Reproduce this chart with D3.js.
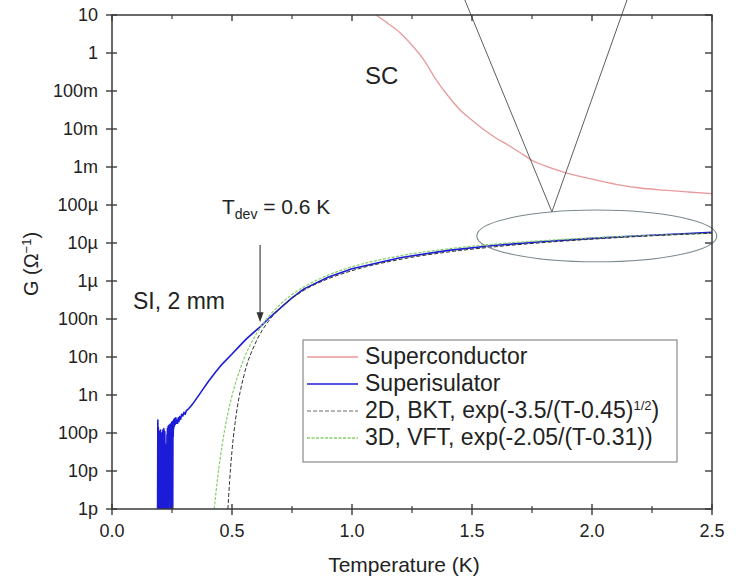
<!DOCTYPE html>
<html>
<head>
<meta charset="utf-8">
<script src="https://cdn.jsdelivr.net/npm/d3@7/dist/d3.min.js"></script>
<style>
  html, body { margin: 0; padding: 0; background: #ffffff; }
  svg { display: block; }
  text { font-family: "Liberation Sans", Arial, Helvetica, sans-serif; fill: #222; }
</style>
</head>
<body>
<svg id="chart" width="736" height="583"></svg>
<script>
// ---------------- DATA ----------------
const xTicks = [0.0, 0.5, 1.0, 1.5, 2.0, 2.5];
const yTickValues = [10, 1, 1e-1, 1e-2, 1e-3, 1e-4, 1e-5, 1e-6, 1e-7, 1e-8, 1e-9, 1e-10, 1e-11, 1e-12];
const yTickLabels = ["10", "1", "100m", "10m", "1m", "100\u00b5", "10\u00b5", "1\u00b5", "100n", "10n", "1n", "100p", "10p", "1p"];

// Superconductor (T in K, G in 1/Ohm)
const T_sc = [1.10, 1.15, 1.20, 1.25, 1.30, 1.35, 1.40, 1.45, 1.50, 1.55, 1.60, 1.65, 1.70, 1.75, 1.80, 1.90, 2.00, 2.10, 2.20, 2.30, 2.40, 2.50];
const G_sc = [10, 6, 3.4, 1.6, 0.65, 0.2, 0.075, 0.032, 0.017, 0.0095, 0.0058, 0.0038, 0.0024, 0.0015, 0.0011, 6.8e-4, 4.8e-4, 3.5e-4, 2.8e-4, 2.45e-4, 2.2e-4, 2.0e-4];

// Superisulator
const T_si = [
  0.190, 0.191, 0.192, 0.193, 0.194, 0.195, 0.196, 0.197, 0.198, 0.199,
  0.200, 0.201, 0.202, 0.203, 0.204, 0.205, 0.206, 0.207, 0.208, 0.209,
  0.210, 0.211, 0.212, 0.213, 0.214, 0.215, 0.216, 0.217, 0.218, 0.219,
  0.220, 0.221, 0.222, 0.223, 0.224, 0.225, 0.226, 0.227, 0.228, 0.229,
  0.230, 0.231, 0.232, 0.233, 0.234, 0.235, 0.236, 0.237, 0.238, 0.239,
  0.240, 0.241, 0.242, 0.243, 0.244, 0.245, 0.246, 0.247, 0.248, 0.249,
  0.250, 0.251, 0.252, 0.253, 0.254, 0.255, 0.256, 0.257, 0.258, 0.260,
  0.262, 0.264, 0.266, 0.268, 0.270, 0.273, 0.276, 0.279, 0.282, 0.286,
  0.290, 0.295, 0.300, 0.305, 0.310, 0.320, 0.330, 0.34, 0.36, 0.38,
  0.40, 0.43, 0.46, 0.50, 0.53, 0.56, 0.60, 0.62, 0.65, 0.70,
  0.75, 0.80, 0.90, 1.0, 1.2, 1.4, 1.6, 1.8, 2.0, 2.2,
  2.4, 2.5];
const G_si = [
  1e-12, 2.2e-10, 2e-12, 1.4e-10, 8e-12, 1e-12, 9e-11, 2e-11, 1.1e-10, 1e-12,
  6e-11, 5e-12, 1.2e-10, 1.5e-11, 1e-12, 8e-11, 3e-12, 1e-10, 2.5e-11, 1e-12,
  7e-11, 1e-12, 1.2e-10, 4e-12, 9e-11, 1.2e-11, 1.3e-10, 1e-12, 6e-11, 2e-12,
  1.1e-10, 3e-11, 8e-12, 1e-12, 5e-11, 2e-12, 1e-12, 4e-11, 1e-12, 9e-11,
  6e-12, 1.3e-10, 2e-11, 1e-12, 1.5e-10, 7e-12, 1.2e-10, 1e-12, 1.6e-10, 3e-11,
  1.4e-10, 5e-12, 1.7e-10, 4e-11, 1e-12, 1.6e-10, 1e-11, 1.8e-10, 1e-12, 1.9e-10,
  6e-11, 2e-10, 2e-12, 1e-12, 1.8e-10, 8e-11, 2.1e-10, 1.3e-10, 2.3e-10, 1.5e-10,
  2.4e-10, 1.7e-10, 2.5e-10, 1.8e-10, 2.2e-10, 1.8e-10, 2.5e-10, 2.0e-10, 2.7e-10, 2.3e-10,
  3.1e-10, 2.8e-10, 3.5e-10, 3.1e-10, 3.9e-10, 4.4e-10, 5.2e-10, 6.3e-10, 9.5e-10, 1.45e-9,
  2.2e-9, 3.9e-9, 6.6e-9, 1.2e-8, 1.9e-8, 3.0e-8, 5.0e-8, 6.4e-8, 1.0e-7, 1.9e-7,
  3.6e-7, 6.2e-7, 1.25e-6, 2.1e-6, 4.1e-6, 6.4e-6, 8.7e-6, 1.1e-5, 1.32e-5, 1.55e-5,
  1.78e-5, 1.9e-5];

// 2D BKT fit (dark dashed curve)
const T_bkt = [0.483, 0.49, 0.50, 0.52, 0.55, 0.60, 0.65, 0.70, 0.75, 0.80, 0.90, 1.0, 1.2, 1.4, 1.6, 1.8, 2.0, 2.2, 2.5];
const G_bkt = [1e-12, 5.3e-12, 3.4e-11, 3.8e-10, 3.3e-9, 2.5e-8, 8.4e-8, 1.9e-7, 3.5e-7, 5.7e-7, 1.14e-6, 1.87e-6, 3.7e-6, 5.8e-6, 8.0e-6, 1.03e-5, 1.26e-5, 1.49e-5, 1.82e-5];

// 3D VFT fit (light green curve)
const T_vft = [0.426, 0.44, 0.46, 0.48, 0.50, 0.55, 0.60, 0.65, 0.70, 0.75, 0.80, 0.90, 1.0, 1.2, 1.4, 1.6, 1.8, 2.0, 2.2, 2.5];
const G_vft = [1e-12, 6.5e-12, 5.3e-11, 2.7e-10, 9.5e-10, 9.0e-9, 3.9e-8, 1.1e-7, 2.4e-7, 4.4e-7, 7.0e-7, 1.43e-6, 2.36e-6, 4.6e-6, 7.0e-6, 9.4e-6, 1.16e-5, 1.37e-5, 1.55e-5, 1.8e-5];

// Annotation anchors (data coordinates)
const vShapeT = [1.47, 1.833, 2.146];
const vShapeG = [25, 6.6e-5, 25];
const ellipseT = [1.52, 2.52];      // left / right extent
const ellipseG = [7.4e-5, 3.2e-6];  // top / bottom extent
const arrowT = 0.617;
const arrowG = [8.9e-6, 8.2e-8];

const legendNames = ["Superconductor", "Superisulator", "2D, BKT, exp(-3.5/(T-0.45)", "3D, VFT, exp(-2.05/(T-0.31))"];

// ---------------- CHART ----------------
const svg = d3.select("#chart");
const pL = 112, pR = 712, pT = 15, pB = 509;

const x = d3.scaleLinear().domain([0, 2.5]).range([pL, pR]);
const y = d3.scaleLog().domain([1e-12, 10]).range([pB, pT]);

svg.append("defs").append("clipPath").attr("id", "plotclip")
  .append("rect").attr("x", pL).attr("y", pT).attr("width", pR - pL).attr("height", pB - pT);

const colors = { sc: "#e8999a", si: "#1c1cd8", bkt: "#333333", vft: "#86cf6a" };

const line = d3.line().x(d => x(d[0])).y(d => y(d[1])).curve(d3.curveMonotoneX);
const lineLin = d3.line().x(d => x(d[0])).y(d => y(d[1]));
const zip = (a, b) => a.map((v, i) => [v, b[i]]);

const plot = svg.append("g").attr("clip-path", "url(#plotclip)");

plot.append("path").attr("d", line(zip(T_sc, G_sc)))
  .attr("fill", "none").attr("stroke", colors.sc).attr("stroke-width", 1.3);
plot.append("path").attr("d", lineLin(zip(T_si, G_si)))
  .attr("fill", "none").attr("stroke", colors.si).attr("stroke-width", 1.6).attr("stroke-linejoin", "round");
plot.append("path").attr("d", line(zip(T_vft, G_vft)))
  .attr("fill", "none").attr("stroke", colors.vft).attr("stroke-width", 1.2).attr("stroke-dasharray", "3,1.5");
plot.append("path").attr("d", line(zip(T_bkt, G_bkt)))
  .attr("fill", "none").attr("stroke", colors.bkt).attr("stroke-width", 1).attr("stroke-dasharray", "4,2");

// Ellipse annotation
const ecx = (x(ellipseT[0]) + x(ellipseT[1])) / 2;
const ecy = (y(ellipseG[0]) + y(ellipseG[1])) / 2;
svg.append("ellipse")
  .attr("cx", ecx).attr("cy", ecy)
  .attr("rx", (x(ellipseT[1]) - x(ellipseT[0])) / 2)
  .attr("ry", (y(ellipseG[1]) - y(ellipseG[0])) / 2)
  .attr("fill", "none").attr("stroke", "#7a8a90").attr("stroke-width", 1.1);

// V-shape lines
svg.append("path").attr("d", lineLin(zip(vShapeT, vShapeG)))
  .attr("fill", "none").attr("stroke", "#5e5e5e").attr("stroke-width", 1);

// Axes frame
const ax = svg.append("g").attr("stroke", "#3a3a3a").attr("fill", "none");
ax.append("rect").attr("x", pL).attr("y", pT).attr("width", pR - pL).attr("height", pB - pT)
  .attr("stroke-width", 1.5);

// x ticks (bottom & top)
const xMinor = [0.25, 0.75, 1.25, 1.75, 2.25];
xTicks.forEach(t => {
  ax.append("line").attr("x1", x(t)).attr("x2", x(t)).attr("y1", pB - 5).attr("y2", pB + 6).attr("stroke-width", 1.4);
  ax.append("line").attr("x1", x(t)).attr("x2", x(t)).attr("y1", pT).attr("y2", pT + 6).attr("stroke-width", 1.4);
});
xMinor.forEach(t => {
  ax.append("line").attr("x1", x(t)).attr("x2", x(t)).attr("y1", pB - 3).attr("y2", pB + 4).attr("stroke-width", 1.2);
  ax.append("line").attr("x1", x(t)).attr("x2", x(t)).attr("y1", pT).attr("y2", pT + 4).attr("stroke-width", 1.2);
});

// y ticks (left & right)
yTickValues.forEach(v => {
  ax.append("line").attr("x1", pL - 6).attr("x2", pL + 5).attr("y1", y(v)).attr("y2", y(v)).attr("stroke-width", 1.4);
  ax.append("line").attr("x1", pR - 7).attr("x2", pR).attr("y1", y(v)).attr("y2", y(v)).attr("stroke-width", 1.4);
});
y.ticks().filter(v => {
  const m = v / Math.pow(10, Math.floor(Math.log10(v) + 1e-9));
  return Math.abs(m - 1) > 1e-6;
}).forEach(v => {
  ax.append("line").attr("x1", pL).attr("x2", pL + 3).attr("y1", y(v)).attr("y2", y(v)).attr("stroke-width", 1);
  ax.append("line").attr("x1", pR - 3).attr("x2", pR).attr("y1", y(v)).attr("y2", y(v)).attr("stroke-width", 1);
});

// Tick labels
svg.append("g").selectAll("text").data(xTicks).join("text")
  .attr("x", d => x(d)).attr("y", 537).attr("text-anchor", "middle")
  .attr("font-size", 18).text(d => d3.format(".1f")(d));
svg.append("g").selectAll("text").data(yTickValues).join("text")
  .attr("x", 98).attr("y", d => y(d) + 6).attr("text-anchor", "end")
  .attr("font-size", 18).text((d, i) => yTickLabels[i]);

// Axis titles
svg.append("text").attr("x", 404).attr("y", 572).attr("text-anchor", "middle")
  .attr("font-size", 21).text("Temperature (K)");
const yt = svg.append("text").attr("transform", "translate(38,264) rotate(-90)")
  .attr("text-anchor", "middle").attr("font-size", 20);
yt.append("tspan").text("G (\u03a9");
yt.append("tspan").attr("dy", -7).attr("font-size", 13).text("\u22121");
yt.append("tspan").attr("dy", 7).text(")");

// Arrow
svg.append("line").attr("x1", x(arrowT)).attr("x2", x(arrowT))
  .attr("y1", y(arrowG[0])).attr("y2", y(arrowG[1]) - 6)
  .attr("stroke", "#333").attr("stroke-width", 1.1);
const ax0 = x(arrowT), ay0 = y(arrowG[1]);
svg.append("path").attr("d", `M${ax0},${ay0} L${ax0 - 3.5},${ay0 - 10} L${ax0 + 3.5},${ay0 - 10} Z`).attr("fill", "#333");

// Text annotations
const td = svg.append("text").attr("x", 222).attr("y", 214).attr("font-size", 21);
td.append("tspan").text("T");
td.append("tspan").attr("dy", 5).attr("font-size", 14).text("dev");
td.append("tspan").attr("dy", -5).text(" = 0.6 K");
svg.append("text").attr("x", 133).attr("y", 309).attr("font-size", 23).text("SI, 2 mm");
svg.append("text").attr("x", 365).attr("y", 84).attr("font-size", 24).text("SC");

// Legend
const lg = svg.append("g");
lg.append("rect").attr("x", 303).attr("y", 340).attr("width", 374).attr("height", 122)
  .attr("fill", "#fff").attr("stroke", "#8a8a8a").attr("stroke-width", 1.2);
const legColors = [colors.sc, colors.si, "#9aa09a", colors.vft];
const legDash = [null, null, "4,2", "3,1.5"];
const legY = [357, 384, 411, 438];
legendNames.forEach((n, i) => {
  lg.append("line").attr("x1", 307).attr("x2", 358).attr("y1", legY[i]).attr("y2", legY[i])
    .attr("stroke", legColors[i]).attr("stroke-width", 1.3).attr("stroke-dasharray", legDash[i]);
  const t = lg.append("text").attr("x", 365).attr("y", legY[i] + 7).attr("font-size", 23).text(n);
  if (i === 2) {
    t.append("tspan").attr("dy", -8).attr("font-size", 13).text("1/2");
    t.append("tspan").attr("dy", 8).text(")");
  }
});
</script>
</body>
</html>
